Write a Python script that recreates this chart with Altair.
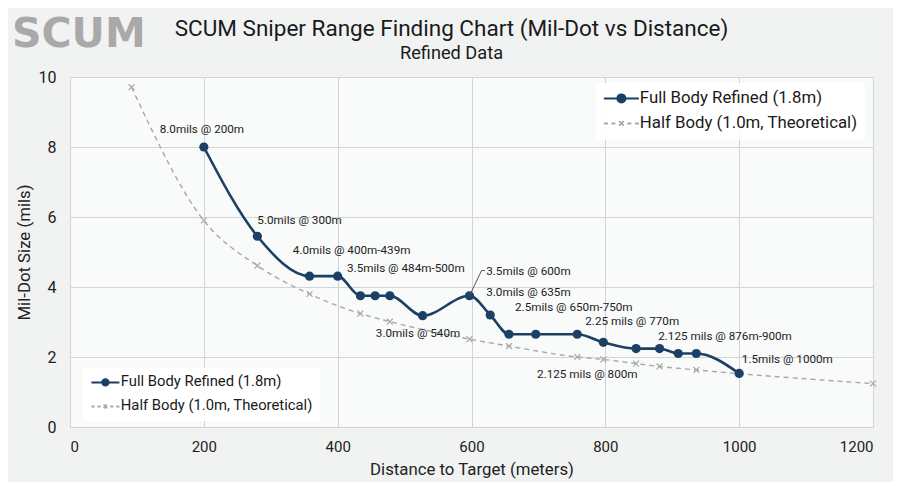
import pandas as pd
import altair as alt

# values
full_x = [200, 280, 358, 400, 434, 456, 478, 527, 597, 628, 656, 696, 758, 797, 846, 881, 909, 936, 1000]
full_y = [8.0, 5.45, 4.31, 4.31, 3.75, 3.75, 3.75, 3.18, 3.75, 3.2, 2.65, 2.65, 2.65, 2.42, 2.24, 2.24, 2.1, 2.1, 1.53]

half_x = [92, 200, 280, 358, 434, 478, 597, 656, 758, 797, 846, 881, 936, 1200]
half_y = [9.71, 5.9, 4.61, 3.8, 3.24, 3.01, 2.51, 2.31, 2.0, 1.93, 1.81, 1.73, 1.63, 1.24]

note_text = [
    "8.0mils @ 200m", "5.0mils @ 300m", "4.0mils @ 400m-439m", "3.5mils @ 484m-500m",
    "3.0mils @ 540m", "3.5mils @ 600m", "3.0mils @ 635m", "2.5mils @ 650m-750m",
    "2.25 mils @ 770m", "2.125 mils @ 876m-900m", "1.5mils @ 1000m", "2.125 mils @ 800m",
]
note_x = [134, 280, 333, 414, 457, 622, 622, 665, 770, 879, 1004, 698]
note_y = [8.51, 5.92, 5.07, 4.54, 2.70, 4.47, 3.87, 3.43, 3.02, 2.59, 1.94, 1.52]

leader_x = [597, 615, 620]
leader_y = [3.75, 4.47, 4.47]

series_names = ["Full Body Refined (1.8m)", "Half Body (1.0m, Theoretical)"]
x_ticks = [0, 200, 400, 600, 800, 1000, 1200]
y_ticks = [0, 2, 4, 6, 8, 10]

NAVY = "#1c3f66"
GRAY = "#a8a8a8"
FONT = "Roboto"

# legend glyphs: line with dot, dashed line with an x
FULL_SYM = "M-3.5,0L3.5,0M-0.8,0A0.8,0.8,0,1,1,0.8,0A0.8,0.8,0,1,1,-0.8,0Z"
HALF_SYM = ("M-3.5,0L-2.7,0M-2.0,0L-1.2,0M1.2,0L2.0,0M2.7,0L3.5,0"
            "M-0.45,-0.45L0.45,0.45M-0.45,0.45L0.45,-0.45")
X_SYM = "M-1,-1L1,1M-1,1L1,-1"

full = pd.DataFrame({"dist": full_x, "mils": full_y})
half = pd.DataFrame({"dist": half_x, "mils": half_y})
notes = pd.DataFrame({"dist": note_x, "mils": note_y, "label": note_text})
leader = pd.DataFrame({"dist": leader_x, "mils": leader_y})
keys = pd.DataFrame(
    {"dist": [full_x[0], half_x[0]], "mils": [full_y[0], half_y[0]], "series": series_names}
)

x_enc = alt.X(
    "dist:Q",
    scale=alt.Scale(domain=[0, 1200], nice=False),
    axis=alt.Axis(values=x_ticks, format="d", title="Distance to Target (meters)",
                  labelPadding=12, titlePadding=7),
)
y_enc = alt.Y(
    "mils:Q",
    scale=alt.Scale(domain=[0, 10], nice=False),
    axis=alt.Axis(values=y_ticks, title="Mil-Dot Size (mils)",
                  labelPadding=14, titlePadding=5, labelFontSize=16),
)

half_line = (
    alt.Chart(half)
    .mark_line(interpolate="monotone", strokeDash=[5, 4], strokeWidth=1.4)
    .encode(x=x_enc, y=y_enc, color=alt.value(GRAY))
)
half_pts = (
    alt.Chart(half)
    .mark_point(shape=X_SYM, size=34, filled=False, strokeWidth=1.2, opacity=1)
    .encode(x="dist:Q", y="mils:Q", color=alt.value(GRAY))
)
full_line = (
    alt.Chart(full)
    .mark_line(interpolate="monotone", strokeWidth=2.6)
    .encode(x="dist:Q", y="mils:Q", color=alt.value(NAVY))
)
full_pts = (
    alt.Chart(full)
    .mark_circle(size=85, opacity=1)
    .encode(x="dist:Q", y="mils:Q", color=alt.value(NAVY))
)
leader_line = (
    alt.Chart(leader)
    .mark_line(strokeWidth=1)
    .encode(x="dist:Q", y="mils:Q", color=alt.value("#555555"))
)
labels = (
    alt.Chart(notes)
    .mark_text(align="left", baseline="middle", font=FONT, fontSize=11.7, color="#222222")
    .encode(x="dist:Q", y="mils:Q", text="label:N")
)
logo = (
    alt.Chart(pd.DataFrame({"t": ["SCUM"]}))
    .mark_text(align="left", baseline="alphabetic", font="DejaVu Sans", fontWeight="bold",
               fontSize=41, color="#a9a9a9")
    .encode(text="t:N", x=alt.value(-58), y=alt.value(-30))
)


def key_layer(lx, ly, sym_size, sym_off, lab_off, row_pad, font_size):
    leg = dict(
        title=None, orient="none", legendX=lx, legendY=ly,
        symbolSize=sym_size, symbolStrokeWidth=2, symbolOffset=sym_off, labelOffset=lab_off,
        labelFont=FONT, labelFontSize=font_size, labelColor="#1a1a1a", labelLimit=400,
        rowPadding=row_pad, fillColor="rgba(255,255,255,0.88)", padding=7, symbolOpacity=1,
    )
    return (
        alt.Chart(keys)
        .mark_point(filled=True, opacity=0)
        .encode(
            x="dist:Q",
            y="mils:Q",
            fill=alt.Fill("series:N", scale=alt.Scale(domain=series_names, range=[NAVY, GRAY]),
                          legend=alt.Legend(**leg)),
            stroke=alt.Stroke("series:N", scale=alt.Scale(domain=series_names, range=[NAVY, GRAY]),
                              legend=alt.Legend(**leg)),
            shape=alt.Shape("series:N", scale=alt.Scale(domain=series_names, range=[FULL_SYM, HALF_SYM]),
                            legend=alt.Legend(**leg)),
        )
    )


chart = (
    alt.layer(
        half_line, half_pts, full_line, full_pts, leader_line, labels, logo,
        key_layer(526, 6, 100, 10, 10, 7, 16.8), key_layer(13, 291, 64, 8, 8, 8, 14.8),
    )
    .resolve_scale(fill="independent", stroke="independent", shape="independent")
    .properties(
        width=803,
        height=350,
        autosize="none",
        padding={"left": 62, "top": 69, "right": 20, "bottom": 55},
        background="#f1f2f2",
        title=alt.Title(
            "SCUM Sniper Range Finding Chart (Mil-Dot vs Distance)",
            subtitle="Refined Data",
            font=FONT, fontSize=22.5, fontWeight="normal", color="#1a1a1a",
            subtitleFont=FONT, subtitleFontSize=18.2, subtitleColor="#1a1a1a",
            anchor="middle", offset=0, dy=48, dx=-20, subtitlePadding=4,
        ),
    )
    .configure_view(fill="#f9fafa", stroke="#c4c4c4", strokeWidth=1)
    .configure_axis(
        labelFont=FONT, titleFont=FONT, labelColor="#222222", titleColor="#222222",
        labelFontSize=15, titleFontSize=16.8, titleFontWeight="normal",
        gridColor="#d4d4d4", gridWidth=1, domain=False, ticks=False,
    )
)

chart.save("out.html", embed_options={"renderer": "svg", "actions": False})
